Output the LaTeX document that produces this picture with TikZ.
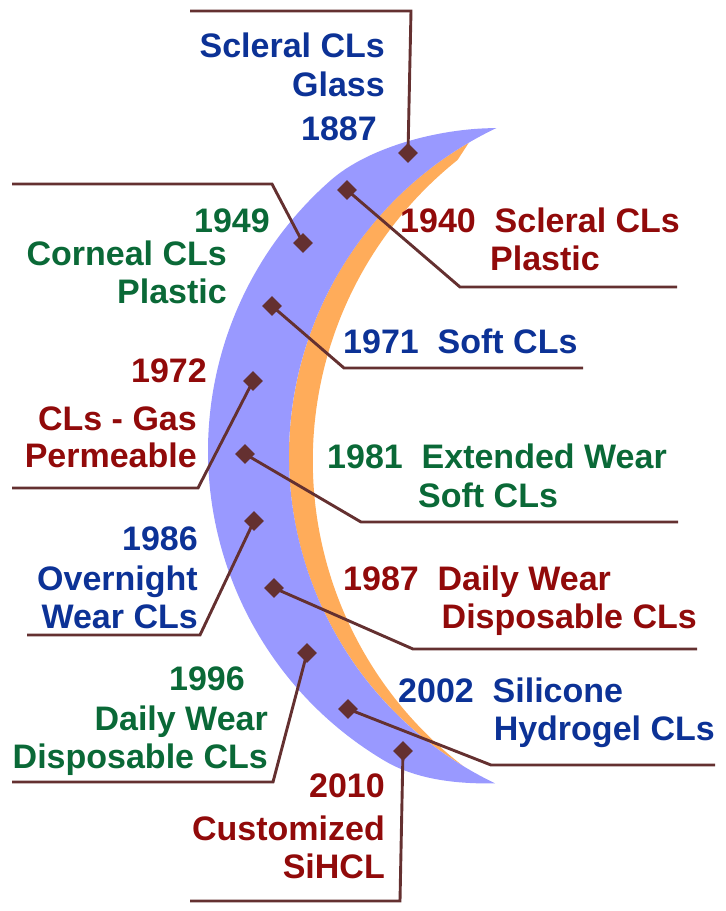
\documentclass[tikz,border=0pt]{standalone}
\usepackage{fontspec}
\setmainfont{Liberation Sans}
\usetikzlibrary{calc}
\definecolor{tblue}{RGB}{12,50,150}
\definecolor{tred}{RGB}{145,10,10}
\definecolor{tgreen}{RGB}{10,105,55}
\definecolor{lens}{RGB}{153,153,255}
\definecolor{rim}{RGB}{255,172,90}
\definecolor{lead}{RGB}{100,48,48}
\tikzset{
  lbl/.style={font=\fontsize{34}{40}\selectfont\bfseries, inner sep=0pt},
  lblue/.style={lbl, text=tblue},
  lred/.style={lbl, text=tred},
  lgreen/.style={lbl, text=tgreen},
  leader/.style={draw=lead, line width=2.9pt, line join=miter},
  gem/.style={fill=lead, draw=none, rectangle, rotate=45, minimum size=14pt, inner sep=0pt},
}
\begin{document}
\begin{tikzpicture}[x=1pt,y=-1pt]
\useasboundingbox (0,0) rectangle (726,911);
% circle centres of the crescent
\coordinate (co) at (568,451);  % outer edge, r=360
\coordinate (cb) at (652,456);  % lens/rim edge, r=363
\coordinate (cw) at (698,461);  % rim/white edge, r=385
\coordinate (T) at ($(cb)+(244.6:363)$);
\coordinate (B) at ($(cb)+(115.6:363)$);
\coordinate (O1) at ($(co)+(228.8:360)$);
\coordinate (O2) at ($(co)+(120.9:360)$);
\coordinate (R1) at ($(cb)+(239.7:363)$);
\coordinate (R2) at ($(cw)+(231.4:385)$);
% orange rim
\fill[rim] (R1) arc[start angle=239.7, end angle=121.4, radius=363]
  arc[start angle=127.6, end angle=231.4, radius=385] -- cycle;
% blue lens
\fill[lens] (T) .. controls (440,128) and (368.6,147) .. (O1)
  arc[start angle=228.8, end angle=120.9, radius=360]
  .. controls (417,780.6) and (460,784) .. (B)
  arc[start angle=115.6, end angle=244.6, radius=363] -- cycle;
% marker positions
\coordinate (p1) at (408,153);
\coordinate (p2) at (347,190);
\coordinate (p3) at (303,243);
\coordinate (p4) at (272,306);
\coordinate (p5) at (253,381);
\coordinate (p6) at (245,454);
\coordinate (p7) at (254,521);
\coordinate (p8) at (274,588);
\coordinate (p9) at (307,653);
\coordinate (p10) at (348,709);
\coordinate (p11) at (403,751);
% elbows and ends
\coordinate (e1) at (411,11);   \coordinate (f1) at (190,11);
\coordinate (e2) at (460,287);  \coordinate (f2) at (677,287);
\coordinate (e3) at (272,184);  \coordinate (f3) at (12,184);
\coordinate (e4) at (344,368);  \coordinate (f4) at (583,368);
\coordinate (e5) at (198,488);  \coordinate (f5) at (12,488);
\coordinate (e6) at (361,522);  \coordinate (f6) at (678,522);
\coordinate (e7) at (200,635);  \coordinate (f7) at (27,635);
\coordinate (e8) at (413,649);  \coordinate (f8) at (697,649);
\coordinate (e9) at (273,782);  \coordinate (f9) at (12,782);
\coordinate (e10) at (491,765); \coordinate (f10) at (715,765);
\coordinate (e11) at (400,901); \coordinate (f11) at (190,901);
\foreach \i in {1,...,11} {\draw[leader] (p\i) -- (e\i) -- (f\i);}
\foreach \i in {1,...,11} {\node[gem] (d\i) at (p\i) {};}
% labels
\node[lblue, anchor=base east] (t1a) at (385,57) {Scleral CLs};
\node[lblue, anchor=base east] (t1b) at (385,96) {Glass};
\node[lblue, anchor=base east] (t1c) at (377,140) {1887};

\node[lred, anchor=base west] (t2a) at (400,232) {1940\ \ Scleral CLs};
\node[lred, anchor=base west] (t2b) at (490,270) {Plastic};

\node[lgreen, anchor=base east] (t3a) at (270,232) {1949};
\node[lgreen, anchor=base east] (t3b) at (227,265) {Corneal CLs};
\node[lgreen, anchor=base east] (t3c) at (227,303) {Plastic};

\node[lblue, anchor=base west] (t4a) at (343,353) {1971\ \ Soft CLs};

\node[lred, anchor=base east] (t5a) at (207,382) {1972};
\node[lred, anchor=base east] (t5b) at (197,430) {CLs - Gas};
\node[lred, anchor=base east] (t5c) at (197,467) {Permeable};

\node[lgreen, anchor=base west] (t6a) at (327,468) {1981\ \ Extended Wear};
\node[lgreen, anchor=base west] (t6b) at (418,507) {Soft CLs};

\node[lblue, anchor=base east] (t7a) at (198,550) {1986};
\node[lblue, anchor=base east] (t7b) at (198,590) {Overnight};
\node[lblue, anchor=base east] (t7c) at (198,628) {Wear CLs};

\node[lred, anchor=base west] (t8a) at (343,590) {1987\ \ Daily Wear};
\node[lred, anchor=base east] (t8b) at (697,628) {Disposable CLs};

\node[lgreen, anchor=base east] (t9a) at (245,690) {1996};
\node[lgreen, anchor=base east] (t9b) at (268,730) {Daily Wear};
\node[lgreen, anchor=base east] (t9c) at (268,768) {Disposable CLs};

\node[lblue, anchor=base west] (t10a) at (398,702) {2002\ \ Silicone};
\node[lblue, anchor=base east] (t10b) at (715,740) {Hydrogel CLs};

\node[lred, anchor=base east] (t11a) at (385,797) {2010};
\node[lred, anchor=base east] (t11b) at (385,840) {Customized};
\node[lred, anchor=base east] (t11c) at (385,878) {SiHCL};
\end{tikzpicture}
\end{document}
